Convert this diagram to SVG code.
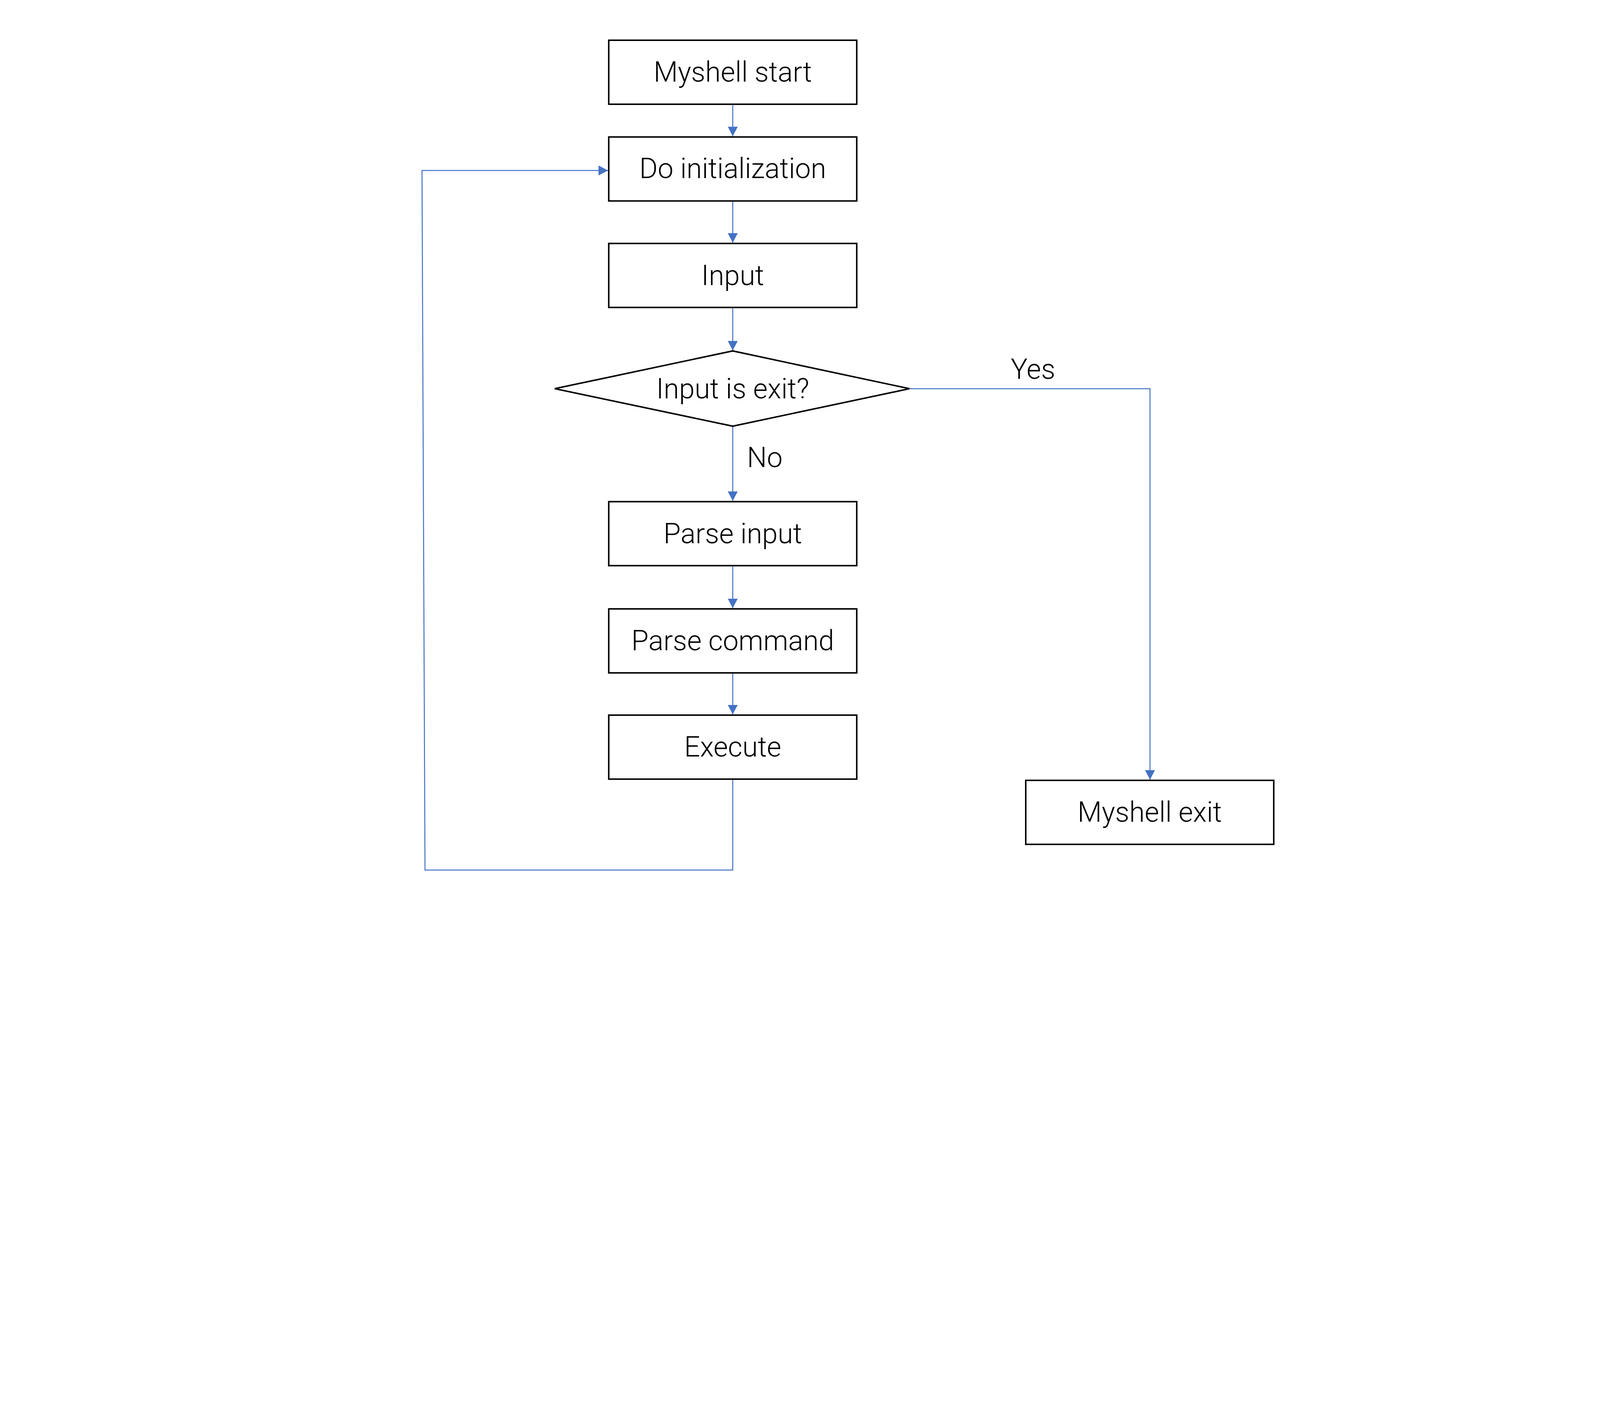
<svg xmlns="http://www.w3.org/2000/svg" width="6400" height="3600" viewBox="0 0 6400 3600" preserveAspectRatio="xMidYMin meet" style="width:100vw;height:100vh;display:block">
<defs>
<style>
.box{fill:#fff;stroke:#000;stroke-width:6}
.lbl{font-family:Roboto,"Liberation Sans",sans-serif;font-weight:300;font-size:112px;fill:#000;text-anchor:middle}
.edge-lbl{font-family:Roboto,"Liberation Sans",sans-serif;font-weight:300;font-size:112px;fill:#000}
.conn{fill:none;stroke:#4472C4;stroke-width:4;marker-end:url(#arr)}
</style>
<marker id="arr" markerUnits="userSpaceOnUse" markerWidth="40" markerHeight="40" refX="38" refY="20" orient="auto" viewBox="0 0 40 40">
<path d="M0,0 L38,20 L0,40 z" fill="#4472C4"/>
</marker>
</defs>
<rect width="6400" height="3600" fill="#fff"/>
<g id="connectors">
<path class="conn" d="M2931,420 V545"/>
<path class="conn" d="M2931,807 V971"/>
<path class="conn" d="M2931,1233 V1402"/>
<path class="conn" d="M2931,1707 V2004"/>
<path class="conn" d="M2931,2266 V2433"/>
<path class="conn" d="M2931,2695 V2858"/>
<path class="conn" d="M3639,1555 H4600 V3119"/>
<path class="conn" d="M2931,3120 V3481 H1700 L1688,682 H2432"/>
<text class="edge-lbl" x="4132" y="1516" text-anchor="middle">Yes</text>
<text class="edge-lbl" x="2988" y="1868">No</text>
</g>
<g id="start">
<rect class="box" x="2435" y="161" width="992" height="256"/>
<text class="lbl" x="2931" y="326">Myshell start</text>
</g>
<g id="init">
<rect class="box" x="2435" y="548" width="992" height="256"/>
<text class="lbl" x="2931" y="712">Do initialization</text>
</g>
<g id="input">
<rect class="box" x="2435" y="974" width="992" height="256"/>
<text class="lbl" x="2931" y="1140">Input</text>
</g>
<g id="decision">
<polygon class="box" points="2219,1555 2931,1404 3638,1555 2931,1705"/>
<text class="lbl" x="2931" y="1593">Input is exit?</text>
</g>
<g id="parse-input">
<rect class="box" x="2435" y="2007" width="992" height="256"/>
<text class="lbl" x="2931" y="2173">Parse input</text>
</g>
<g id="parse-command">
<rect class="box" x="2435" y="2436" width="992" height="256"/>
<text class="lbl" x="2931" y="2602">Parse command</text>
</g>
<g id="execute">
<rect class="box" x="2435" y="2861" width="992" height="256"/>
<text class="lbl" x="2931" y="3027">Execute</text>
</g>
<g id="exit">
<rect class="box" x="4103" y="3122" width="992" height="256"/>
<text class="lbl" x="4599" y="3288">Myshell exit</text>
</g>
</svg>
